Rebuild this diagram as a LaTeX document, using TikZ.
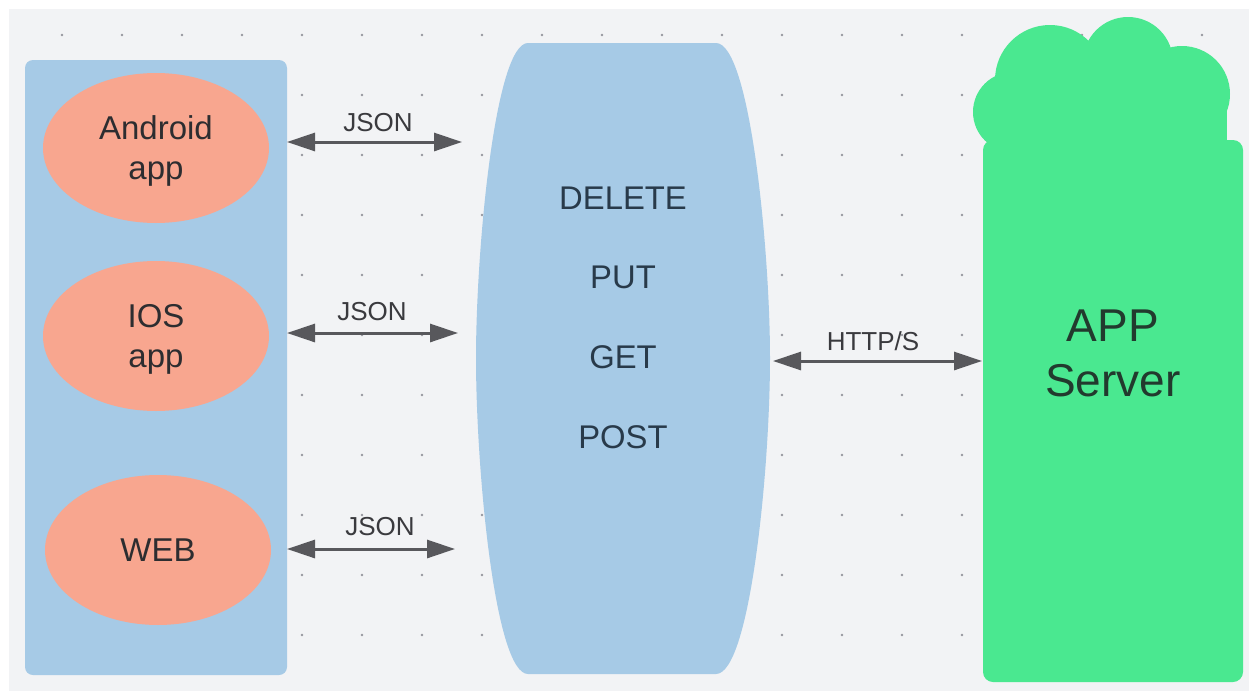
\documentclass[tikz,border=0pt]{standalone}
\usepackage{fontspec}
\setmainfont{Liberation Sans}
\usetikzlibrary{arrows.meta, shapes.geometric}

\definecolor{canvas}{RGB}{242,243,245}
\definecolor{griddot}{RGB}{150,151,158}
\definecolor{paleblue}{RGB}{166,202,230}
\definecolor{salmon}{RGB}{248,166,143}
\definecolor{mint}{RGB}{74,232,144}
\definecolor{wiregray}{RGB}{88,88,92}
\definecolor{labelgray}{RGB}{58,58,62}
\definecolor{clienttext}{RGB}{45,45,48}
\definecolor{methodtext}{RGB}{40,58,74}
\definecolor{servertext}{RGB}{34,58,46}

\begin{document}
\begin{tikzpicture}[x=0.5pt, y=-0.5pt,
  client/.style={ellipse, fill=salmon, minimum width=113pt, minimum height=75pt,
    inner sep=0pt, align=center, text=clienttext, text depth=0pt,
    font=\fontsize{16.5}{20}\selectfont},
  method/.style={text=methodtext, inner sep=0pt, font=\fontsize{16.4}{20}\selectfont},
  server label/.style={text=servertext, align=center, inner sep=0pt,
    font=\fontsize{23}{27.5}\selectfont},
  wire/.style={draw=wiregray, line width=1.5pt,
    {Triangle[length=14pt, width=9pt]}-{Triangle[length=14pt, width=9pt]}},
  wire label/.style={text=labelgray, inner sep=0pt, font=\fontsize{13}{15}\selectfont}
]
\useasboundingbox (0,0) rectangle (1249,691);

% canvas with dotted grid
\fill[canvas] (9,9) rectangle (1249,691);
\foreach \gx in {62,122,...,1202}
  \foreach \gy in {35,95,...,635}
    \fill[griddot] (\gx,\gy) circle[radius=0.7pt];

% client panel
\fill[paleblue, rounded corners=4pt] (25,60) rectangle (287,675);
\node[client] (android) at (156,148) {Android\\app};
\node[client] (ios) at (156,336) {IOS\\app};
\node[client] (web) at (158,550) {WEB};

% API barrel
\fill[paleblue] (528,43) .. controls (495,43) and (476,250) .. (476,358)
  .. controls (476,470) and (495,674) .. (528,674) -- (716,674)
  .. controls (750,674) and (770,470) .. (770,358)
  .. controls (770,250) and (750,43) .. (716,43) -- cycle;
\node[method] (delete) at (623,198) {DELETE};
\node[method] (put) at (623,277) {PUT};
\node[method] (get) at (623,357) {GET};
\node[method] (post) at (623,437) {POST};

% server cloud
\fill[mint, rounded corners=5pt] (983,140) rectangle (1243,682);
\fill[mint] (990,95) rectangle (1227,150);
\fill[mint] (1013,112) circle[radius=20pt];
\fill[mint] (1050,80) circle[radius=27.5pt];
\fill[mint] (1128,62) circle[radius=22.5pt];
\fill[mint] (1182,94) circle[radius=24pt];
\node[server label] (server) at (1113,353) {APP\\Server};

% connector end points
\coordinate (cA) at (287,142);
\coordinate (aA) at (462,142);
\coordinate (cI) at (287,333);
\coordinate (aI) at (458,333);
\coordinate (cW) at (287,549);
\coordinate (aW) at (455,549);
\coordinate (aS) at (773,361);
\coordinate (sS) at (982,361);

\draw[wire] (cA) -- (aA);
\draw[wire] (cI) -- (aI);
\draw[wire] (cW) -- (aW);
\draw[wire] (aS) -- (sS);

\node[wire label] (jsonA) at (378,123) {JSON};
\node[wire label] (jsonI) at (372,312) {JSON};
\node[wire label] (jsonW) at (380,527) {JSON};
\node[wire label] (https) at (873,341) {HTTP/S};
\end{tikzpicture}
\end{document}
